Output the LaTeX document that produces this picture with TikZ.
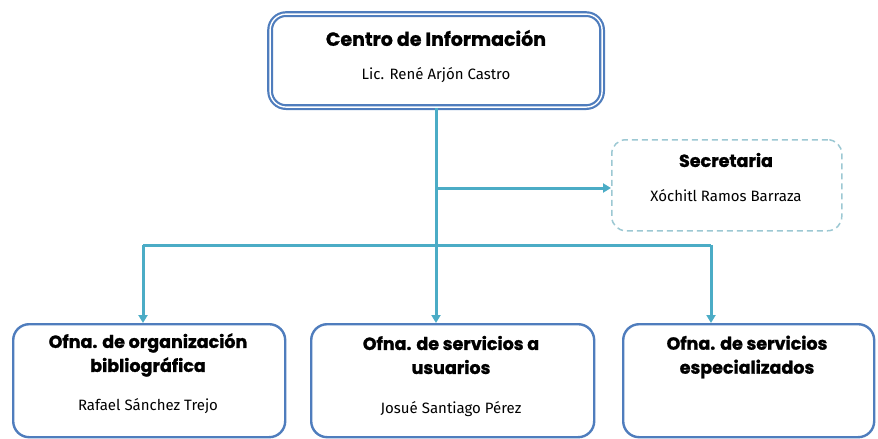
\documentclass[tikz,border=0pt]{standalone}
\usepackage{fontspec}
\setmainfont{Fira Sans}
\newfontfamily\titlefont{Poppins}[BoldFeatures={FakeBold=1.2}]
\usetikzlibrary{arrows.meta}

\definecolor{boxblue}{HTML}{4F7DBD}
\definecolor{linkteal}{HTML}{4BACC6}
\definecolor{secgray}{HTML}{9CC8D3}

\begin{document}
\begin{tikzpicture}[x=1pt, y=-1pt,
    office/.style={draw=boxblue, line width=2.4pt, rounded corners=16pt, fill=white,
      minimum width=#1, minimum height=113pt, anchor=north west, inner sep=0pt},
    link/.style={draw=linkteal, line width=3pt},
    arrowlink/.style={link, -{Triangle[width=9pt, length=8pt]}},
    heading/.style={font=\titlefont\bfseries\fontsize{17.5}{24}\selectfont},
    person/.style={font=\fontsize{15}{18}\selectfont}]
  \useasboundingbox (0, 0) rectangle (878, 439);
	%Centro de Informacion
	\node (ci) [draw=boxblue, line width=2.2pt, double=white, double distance=1.4pt,
	  rounded corners=16pt, fill=white, minimum width=332pt, minimum height=93pt,
	  anchor=north west] at (269, 13) {};
	\node (ciT) [heading, font=\titlefont\bfseries\fontsize{19}{24}\selectfont] at (436, 38) {Centro de Información};
	\node (ciN) [person] at (436, 75) {Lic. René Arjón Castro};
	%Secretaria
	\node (sec) [draw=secgray, line width=1.5pt, dashed, dash pattern=on 6pt off 4pt,
	  rounded corners=14pt, minimum width=230pt, minimum height=91pt,
	  anchor=north west] at (611, 139) {};
	\node (secT) [heading] at (726, 160) {Secretaria};
	\node (secN) [person] at (726, 196) {Xóchitl Ramos Barraza};
	%Oficinas
	\node (org) [office=272pt] at (12, 323) {};
	\node (orgT) [heading, align=center] at (148, 355) {Ofna. de organización\\bibliográfica};
	\node (orgN) [person] at (148, 406) {Rafael Sánchez Trejo};
	\node (usr) [office=283pt] at (310, 323) {};
	\node (usrT) [heading, align=center] at (451, 355) {Ofna. de servicios a\\usuarios};
	\node (usrN) [person] at (451, 409) {Josué Santiago Pérez};
	\node (esp) [office=251pt] at (622, 323) {};
	\node (espT) [heading, align=center] at (747, 357) {Ofna. de servicios\\especializados};
	%Connectors
	\coordinate (hub) at (436, 245);
	\coordinate (tap) at (436, 188);
	\coordinate (left) at (143, 245);
	\coordinate (right) at (711, 245);
	\draw [link] (ci.south -| hub) -- (hub);
	\draw [link] (left) -- (right);
	\draw [arrowlink] (tap) -- (tap -| sec.west);
	\draw [arrowlink] (left) -- (left |- org.north);
	\draw [arrowlink] (hub) -- (hub |- usr.north);
	\draw [arrowlink] (right) -- (right |- esp.north);
\end{tikzpicture}
\end{document}
